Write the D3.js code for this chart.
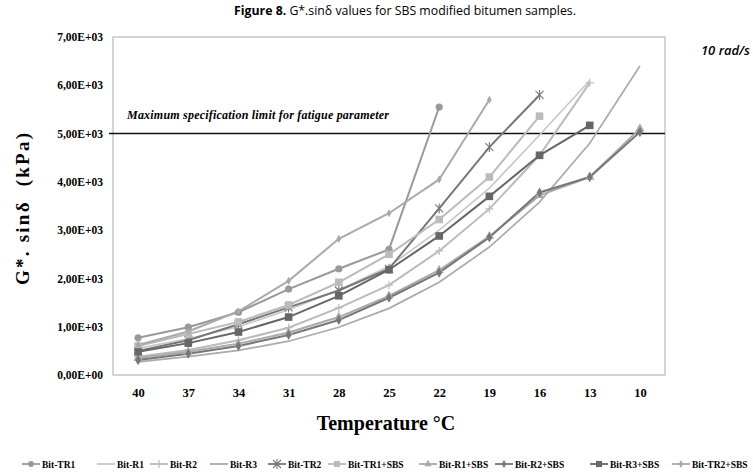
<!DOCTYPE html>
<html>
<head>
<meta charset="utf-8">
<script src="https://cdn.jsdelivr.net/npm/d3@7"></script>
<style>
  body { margin: 0; background: #fff; }
  svg { display: block; }
</style>
</head>
<body>
<svg id="chart" width="753" height="474"></svg>
<script>
// temperatures on the x axis
let temps = ["40", "37", "34", "31", "28", "25", "22", "19", "16", "13", "10"];
let yTicks = [0, 1000, 2000, 3000, 4000, 5000, 6000, 7000];
let limit = 5000;

// G*.sin(delta) values, kPa (series stop where the test stopped)
let bitTR1     = [770, 990, 1300, 1780, 2200, 2600, 5550];
let bitR1      = [550, 750, 1000, 1350, 1760, 2250, 3000, 3870, 4970, 6100];
let bitR2      = [380, 520, 720, 980, 1390, 1860, 2570, 3440, 4550, 6050];
let bitR3      = [270, 380, 510, 700, 990, 1380, 1920, 2650, 3580, 4800, 6400];
let bitTR2     = [500, 720, 1050, 1400, 1750, 2200, 3450, 4720, 5800];
let bitTR1SBS  = [600, 850, 1100, 1450, 1920, 2500, 3220, 4100, 5360];
let bitR1SBS   = [350, 480, 650, 880, 1200, 1640, 2170, 2870, 3720, 4100, 5100];
let bitR2SBS   = [310, 440, 600, 830, 1140, 1600, 2120, 2850, 3780, 4100, 5030];
let bitR3SBS   = [480, 660, 890, 1200, 1640, 2180, 2880, 3700, 4550, 5170];
let bitTR2SBS  = [620, 900, 1320, 1950, 2820, 3350, 4050, 5700];

let series = [
  { name: "Bit-TR1",     values: bitTR1,    color: "#999", marker: "circle" },
  { name: "Bit-R1",      values: bitR1,     color: "#c8c8c8", marker: "none" },
  { name: "Bit-R2",      values: bitR2,     color: "#bbb", marker: "plus" },
  { name: "Bit-R3",      values: bitR3,     color: "#aaa", marker: "none" },
  { name: "Bit-TR2",     values: bitTR2,    color: "#777", marker: "star" },
  { name: "Bit-TR1+SBS", values: bitTR1SBS, color: "#bbb", marker: "square" },
  { name: "Bit-R1+SBS",  values: bitR1SBS,  color: "#aaa", marker: "triangle" },
  { name: "Bit-R2+SBS",  values: bitR2SBS,  color: "#777", marker: "diamond" },
  { name: "Bit-R3+SBS",  values: bitR3SBS,  color: "#666", marker: "square" },
  { name: "Bit-TR2+SBS", values: bitTR2SBS, color: "#aaa", marker: "diamond" }
];

// legend x positions (start of the line sample)
let legendX = [22, 97, 150, 210, 268, 328, 419, 495, 590, 672];

let svg = d3.select("#chart");
let serif = "Liberation Serif, Times New Roman, serif";
let sans = "Open Sans, Noto Sans, sans-serif";

let x = d3.scalePoint().domain(temps).range([113, 665]).padding(0.5);
let y = d3.scaleLinear().domain([0, 7000]).range([375, 37]);

function sci(v) {
  if (v === 0) return "0,00E+00";
  let s = v.toExponential(2).split("e");
  let e = +s[1];
  return s[0].replace(".", ",") + "E" + (e < 0 ? "-" : "+") + String(Math.abs(e)).padStart(2, "0");
}

function txt(sel, family, size, weight, italic) {
  return sel.attr("font-family", family).attr("font-size", size)
    .attr("font-weight", weight || "normal")
    .attr("font-style", italic ? "italic" : "normal")
    .attr("fill", "#000");
}

// title
let title = txt(svg.append("text"), sans, 12.3)
  .attr("x", 405).attr("y", 15)
  .attr("text-anchor", "middle");
title.append("tspan").attr("font-weight", "bold").text("Figure 8.");
title.append("tspan").text(" G*.sinδ values for SBS modified bitumen samples.");

// plot frame
svg.append("rect")
  .attr("x", 113).attr("y", 37)
  .attr("width", 552).attr("height", 338)
  .attr("fill", "none").attr("stroke", "#aaa").attr("stroke-width", 1);

// y axis labels
let yAxis = svg.append("g")
  .attr("transform", "translate(113,0)")
  .call(d3.axisLeft(y).tickValues(yTicks).tickFormat(sci).tickSize(0).tickPadding(10));
yAxis.select(".domain").remove();
txt(yAxis.selectAll("text"), serif, 11.5, "bold");

// x axis labels
let xAxis = svg.append("g")
  .attr("transform", "translate(0,375)")
  .call(d3.axisBottom(x).tickSize(0).tickPadding(13));
xAxis.select(".domain").remove();
txt(xAxis.selectAll("text"), serif, 12.5, "bold");

// axis titles
txt(svg.append("text"), serif, 19, "bold")
  .attr("transform", "translate(29,209) rotate(-90)")
  .attr("text-anchor", "middle")
  .attr("textLength", 152).attr("lengthAdjust", "spacing")
  .text("G*. sinδ \u00a0(kPa)");

txt(svg.append("text"), serif, 20, "bold")
  .attr("x", 386).attr("y", 430)
  .attr("text-anchor", "middle")
  .text("Temperature °C");

txt(svg.append("text"), sans, 13, "600", true)
  .attr("x", 750).attr("y", 55)
  .attr("text-anchor", "end")
  .text("10 rad/s");

// fatigue limit line and its note
svg.append("line")
  .attr("x1", 109).attr("x2", 665)
  .attr("y1", y(limit)).attr("y2", y(limit))
  .attr("stroke", "#111").attr("stroke-width", 1.5);

txt(svg.append("text"), serif, 12, "bold", true)
  .attr("x", 127).attr("y", y(limit) - 15)
  .attr("textLength", 262).attr("lengthAdjust", "spacing")
  .text("Maximum specification limit for fatigue parameter");

// markers
function drawMarker(g, type, color, size) {
  let s = size || 1;
  if (type === "circle") {
    g.append("circle").attr("r", 3.6 * s).attr("fill", color);
  } else if (type === "square") {
    g.append("rect").attr("x", -3.8 * s).attr("y", -3.8 * s)
      .attr("width", 7.6 * s).attr("height", 7.6 * s).attr("fill", color);
  } else if (type === "triangle") {
    g.append("path").attr("d", d3.symbol(d3.symbolTriangle, 38 * s * s)()).attr("fill", color);
  } else if (type === "diamond") {
    g.append("path").attr("d", d3.symbol(d3.symbolDiamond, 30 * s * s)()).attr("fill", color);
  } else if (type === "plus") {
    g.append("path").attr("d", "M-4,0H4M0,-4V4").attr("stroke", color).attr("stroke-width", 1.2);
  } else if (type === "star") {
    g.append("path").attr("d", "M-4,-4L4,4M-4,4L4,-4M0,-5V5").attr("stroke", color).attr("stroke-width", 1.1);
  }
}

let line = d3.line()
  .x(function(d, i) { return x(temps[i]); })
  .y(function(d) { return y(d); });

let plot = svg.append("g");
series.forEach(function(s) {
  plot.append("path")
    .datum(s.values)
    .attr("d", line)
    .attr("fill", "none")
    .attr("stroke", s.color)
    .attr("stroke-width", s.marker === "none" ? 1.7 : 2);
});
series.forEach(function(s) {
  if (s.marker === "none") return;
  s.values.forEach(function(v, i) {
    let g = plot.append("g").attr("transform", "translate(" + x(temps[i]) + "," + y(v) + ")");
    drawMarker(g, s.marker, s.color, s.name === "Bit-TR2+SBS" ? 0.8 : 1);
  });
});

// legend
let legend = svg.append("g").attr("transform", "translate(0,464)");
series.forEach(function(s, i) {
  let g = legend.append("g").attr("transform", "translate(" + legendX[i] + ",0)");
  g.append("line").attr("x1", 0).attr("x2", 18).attr("y1", 0).attr("y2", 0)
    .attr("stroke", s.color).attr("stroke-width", 1.8);
  let m = g.append("g").attr("transform", "translate(9,0)");
  drawMarker(m, s.marker, s.color, 0.8);
  txt(g.append("text"), serif, 9.5, "bold")
    .attr("x", 20).attr("y", 3.5)
    .text(s.name);
});
</script>
</body>
</html>
